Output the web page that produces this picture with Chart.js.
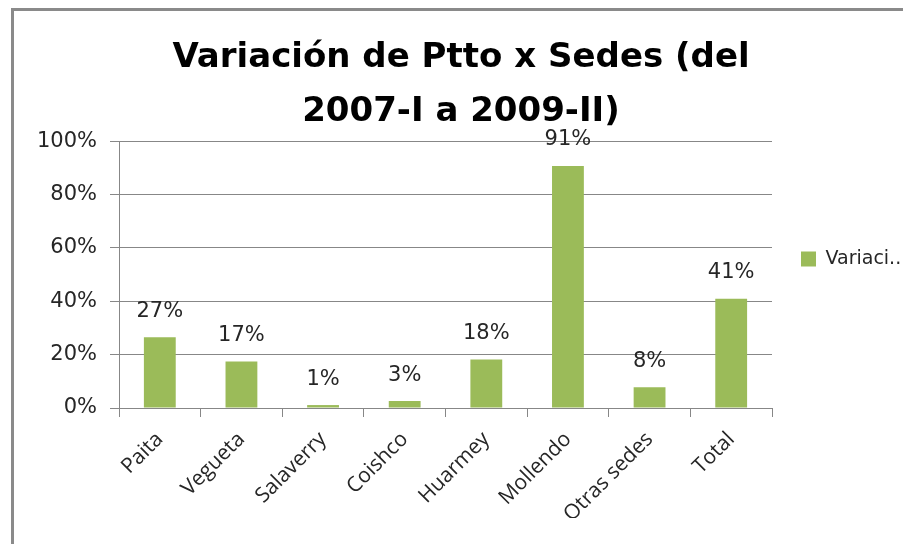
<!DOCTYPE html>
<html>
<head>
<meta charset="utf-8">
<script src="https://cdn.jsdelivr.net/npm/chart.js@4/dist/chart.umd.min.js"></script>
<style>
  html, body { margin: 0; padding: 0; background: #fff; }
  #wrap { position: relative; width: 903px; height: 544px; overflow: hidden; }
  #frame { position: absolute; left: 11px; top: 8px; width: 1000px; height: 1000px; border: 3px solid #8a8a8a; box-sizing: border-box; }
  canvas { position: absolute; left: 0; top: 0; }
</style>
</head>
<body>
<div id="wrap">
  <div id="frame"></div>
  <canvas id="chart" width="903" height="544"></canvas>
</div>
<script>
const categories = ['Paita', 'Vegueta', 'Salaverry', 'Coishco', 'Huarmey', 'Mollendo', 'Otras sedes', 'Total'];
const variacion = [0.265, 0.174, 0.011, 0.026, 0.182, 0.907, 0.078, 0.409];
const seriesLabel = 'Variaci..';
const yTicks = [0, 0.2, 0.4, 0.6, 0.8, 1];
const titleLines = ['Variación de Ptto x Sedes (del', '2007-I a 2009-II)'];

const barColor = '#9bbb59';
const gridColor = '#878787';
const textColor = '#262626';
const wideFont = 'DejaVu Sans';
const labelFont = 'Open Sans';

const pct = v => Math.round(v * 100) + '%';

// value labels above each bar
const valueLabels = {
    id: 'valueLabels',
    afterDatasetsDraw(chart) {
        const ctx = chart.ctx;
        const meta = chart.getDatasetMeta(0);
        ctx.save();
        ctx.font = '21px "' + wideFont + '"';
        ctx.fillStyle = textColor;
        ctx.textAlign = 'center';
        ctx.textBaseline = 'middle';
        meta.data.forEach((bar, i) => {
            ctx.fillText(pct(variacion[i]), bar.x, bar.y - 26);
        });
        ctx.restore();
    }
};

const ctx = document.getElementById('chart').getContext('2d');
new Chart(ctx, {
    type: 'bar',
    data: {
        labels: categories,
        datasets: [{
            label: seriesLabel,
            data: variacion,
            backgroundColor: barColor,
            categoryPercentage: 1,
            barPercentage: 0.39
        }]
    },
    options: {
        responsive: false,
        animation: false,
        layout: { padding: { top: 0, right: 0, bottom: 26, left: 19 } },
        plugins: {
            tooltip: { enabled: false },
            title: {
                display: true,
                text: titleLines,
                color: '#000',
                font: { family: wideFont, size: 34, weight: 'bold', lineHeight: 1.59 },
                padding: { top: 31, bottom: 2 }
            },
            legend: {
                position: 'right',
                maxWidth: 131,
                labels: {
                    boxWidth: 15,
                    boxHeight: 15,
                    padding: 29,
                    color: textColor,
                    font: { family: wideFont, size: 19 }
                }
            }
        },
        scales: {
            y: {
                min: 0,
                max: 1,
                afterFit: s => { s.width = 100; },
                afterBuildTicks: s => { s.ticks = yTicks.map(v => ({ value: v })); },
                ticks: {
                    callback: v => pct(v),
                    color: textColor,
                    padding: 13,
                    font: { family: wideFont, size: 21 }
                },
                grid: { color: gridColor, tickLength: 9, lineWidth: 1 },
                border: { color: gridColor }
            },
            x: {
                afterFit: s => { s.height = 110; },
                ticks: {
                    color: textColor,
                    maxRotation: 45,
                    minRotation: 45,
                    padding: 10,
                    font: { family: labelFont, size: 21 }
                },
                grid: { offset: true, drawOnChartArea: false, color: gridColor, tickLength: 9 },
                border: { color: gridColor }
            }
        }
    },
    plugins: [valueLabels]
});
</script>
</body>
</html>
